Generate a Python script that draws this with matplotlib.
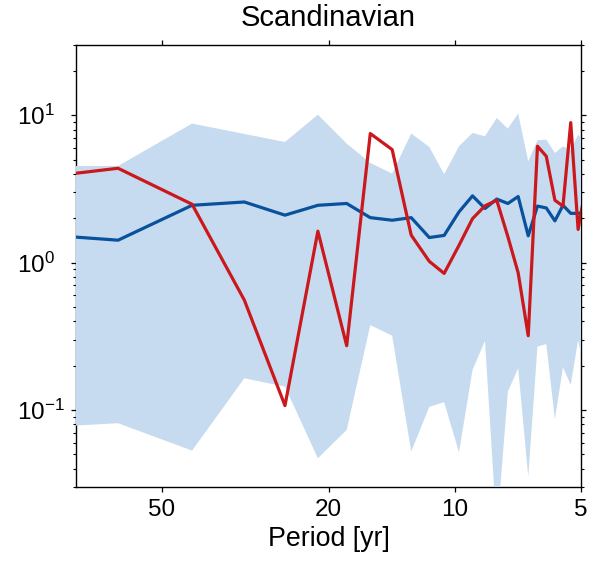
import matplotlib
matplotlib.use("Agg")
import matplotlib.pyplot as plt
import numpy as np

plt.rcParams['font.family'] = ['Liberation Sans', 'DejaVu Sans']
plt.rcParams['mathtext.default'] = 'regular'

# Period [yr] of each spectral estimate
period = [127, 63.5, 42.3, 31.75, 25.4, 21.2, 18.1, 15.9, 14.1, 12.7,
          11.5, 10.6, 9.77, 9.07, 8.47, 7.94, 7.47, 7.06, 6.68, 6.35,
          6.05, 5.77, 5.52, 5.29, 5.08, 4.88]

# Observed (red) spectrum
red_vals = [3.46, 4.37, 2.49, 0.557, 0.107, 1.635, 0.273, 7.52, 5.85, 1.536,
            1.02, 0.845, 1.31, 1.99, 2.43, 2.65, 1.50, 0.853, 0.319, 6.17,
            5.27, 2.65, 2.42, 8.92, 1.68, 3.18]

# Ensemble median (blue)
blue_vals = [1.64, 1.42, 2.45, 2.58, 2.10, 2.45, 2.52, 2.02, 1.94, 2.02,
             1.48, 1.53, 2.21, 2.84, 2.33, 2.70, 2.52, 2.81, 1.52, 2.42,
             2.35, 1.92, 2.45, 2.16, 2.16, 2.20]

# Ensemble range (shaded band)
band_upper = [4.53, 4.53, 8.79, 7.47, 6.59, 10.1, 6.43, 4.75, 4.02, 7.52,
              6.10, 3.98, 6.16, 7.59, 7.21, 9.59, 8.12, 10.27, 4.88, 6.77,
              6.84, 5.55, 6.16, 5.79, 7.40, 6.41]
band_lower = [0.0728, 0.0813, 0.053, 0.164, 0.144, 0.047, 0.0732, 0.377, 0.319, 0.0522,
              0.105, 0.113, 0.0516, 0.187, 0.294, 0.015, 0.133, 0.192, 0.0353, 0.269,
              0.280, 0.0865, 0.195, 0.148, 0.298, 0.168]

xticks = [50, 20, 10, 5]
xticklabels = ['50', '20', '10', '5']
yticks = [0.1, 1, 10]
yticklabels = ['$10^{-1}$', '$10^{0}$', '$10^{1}$']

title = 'Scandinavian'
xlabel = 'Period [yr]'

fig = plt.figure(figsize=(5.92, 5.64), dpi=100)
ax = fig.add_axes([76/592, 1-487/564, (581-76)/592, (487-45)/564])

ax.fill_between(period, band_lower, band_upper, color='#c6dbef', lw=0, zorder=3)
ax.plot(period, blue_vals, color='#08519c', lw=2.3, zorder=4)
ax.plot(period, red_vals, color='#cb181d', lw=2.3, zorder=5)

ax.set_xscale('log')
ax.set_yscale('log')
ax.set_xlim(80, 5)
ax.set_ylim(0.03, 30)

ax.set_xticks(xticks, xticklabels)
ax.xaxis.set_minor_locator(matplotlib.ticker.NullLocator())
ax.set_yticks(yticks, yticklabels, ha='left')
ax.yaxis.set_minor_locator(matplotlib.ticker.LogLocator(base=10, subs=np.arange(2, 10)))
ax.yaxis.set_minor_formatter(matplotlib.ticker.NullFormatter())

ax.tick_params(axis='both', which='major', direction='out', length=3.5, width=0.9,
               labelsize=17.5, top=True, right=True)
ax.tick_params(axis='both', which='minor', direction='out', length=2.5, width=0.8,
               top=True, right=True)
ax.tick_params(axis='y', which='major', pad=39)
ax.tick_params(axis='x', which='major', pad=5)

for s in ax.spines.values():
    s.set_linewidth(1.0)

ax.set_title(title, fontsize=21, pad=14)
ax.set_xlabel(xlabel, fontsize=19.3, labelpad=4)

fig.savefig('out.png', dpi=100)
